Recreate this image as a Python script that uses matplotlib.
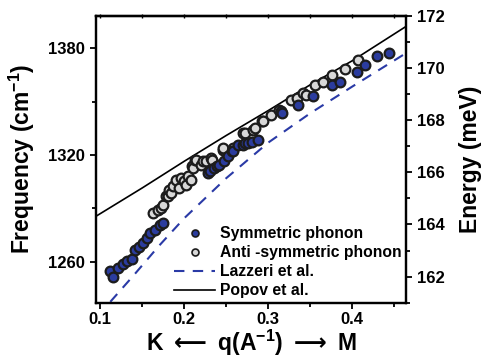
import matplotlib
matplotlib.use("Agg")
import matplotlib.pyplot as plt
from matplotlib.lines import Line2D
from matplotlib.ticker import MultipleLocator

plt.rcParams['font.family'] = ['Liberation Sans', 'DejaVu Sans']
plt.rcParams['font.weight'] = 'bold'
plt.rcParams['mathtext.fontset'] = 'dejavusans'

# Symmetric phonon (blue)
sym_q = [0.1116, 0.1155, 0.1215, 0.1266, 0.1314, 0.1373, 0.1413, 0.1465, 0.1512, 0.1552,
         0.1592, 0.1651, 0.1711, 0.1750, 0.2286, 0.2306, 0.2358, 0.2385, 0.2417, 0.2477,
         0.2516, 0.2564, 0.2576, 0.2643, 0.2695, 0.2723, 0.2754, 0.2802, 0.2881, 0.3151,
         0.3159, 0.3357, 0.3536, 0.3754, 0.3853, 0.4052, 0.4151, 0.4290, 0.4437]
sym_f = [1254.8, 1251.6, 1256.6, 1258.5, 1260.4, 1261.3, 1266.9, 1268.4, 1270.6, 1273.5,
         1276.2, 1278.1, 1280.9, 1281.9, 1309.9, 1310.8, 1312.7, 1313.6, 1314.6, 1316.4,
         1319.2, 1322.0, 1322.0, 1325.8, 1325.8, 1326.7, 1326.7, 1327.6, 1328.6, 1344.5,
         1343.9, 1348.2, 1352.9, 1359.4, 1361.3, 1366.9, 1370.6, 1375.7, 1377.5]

# Anti-symmetric phonon (gray)
anti_q = [0.1623, 0.1683, 0.1723, 0.1743, 0.1782, 0.1802, 0.1822, 0.1842, 0.1862, 0.1901,
          0.1941, 0.1961, 0.2001, 0.2020, 0.2040, 0.2080, 0.2088, 0.2100, 0.2128, 0.2139,
          0.2199, 0.2227, 0.2258, 0.2318, 0.2326, 0.2457, 0.2465, 0.2576, 0.2695, 0.2723,
          0.2814, 0.2842, 0.2921, 0.2933, 0.3032, 0.3131, 0.3268, 0.3337, 0.3417, 0.3449,
          0.3556, 0.3655, 0.3754, 0.3913, 0.4070]
anti_f = [1287.5, 1289.0, 1290.3, 1292.1, 1296.8, 1296.8, 1300.5, 1298.7, 1302.4, 1306.2,
          1301.5, 1307.1, 1305.2, 1303.3, 1308.0, 1306.2, 1313.6, 1312.7, 1317.4, 1317.4,
          1314.6, 1316.4, 1316.4, 1318.3, 1317.4, 1323.0, 1323.9, 1323.9, 1332.3, 1332.3,
          1334.2, 1335.1, 1338.9, 1338.9, 1342.6, 1345.4, 1351.0, 1351.9, 1354.7, 1353.8,
          1359.4, 1361.3, 1365.0, 1368.2, 1373.4]

# Lazzeri et al. (dashed)
laz_q = [0.112, 0.14, 0.17, 0.2, 0.25, 0.3, 0.35, 0.4, 0.463]
laz_f = [1237.5, 1252.5, 1269.0, 1284.5, 1307.0, 1327.0, 1343.5, 1358.5, 1377.0]

# Popov et al. (solid)
pop_q = [0.095, 0.15, 0.2, 0.25, 0.3, 0.35, 0.4, 0.463]
pop_f = [1285.6, 1301.5, 1316.5, 1331.0, 1345.0, 1359.5, 1373.0, 1392.0]

labels = ['Symmetric phonon', 'Anti -symmetric phonon', 'Lazzeri et al.', 'Popov et al.']

blue = '#2b3c9e'
gray = '#d8d8d8'
edge = '#1c1c1c'

fig = plt.figure(figsize=(4.83, 3.62), dpi=100)
ax = fig.add_axes([0.1988, 0.1638, 0.642, 0.7928])

ax.plot(laz_q, laz_f, color='#2a3aa6', lw=1.5, dashes=(5, 4), zorder=2)
ax.plot(pop_q, pop_f, color='black', lw=1.2, zorder=2)
ax.plot(anti_q, anti_f, 'o', ms=7, mfc=gray, mec=edge, mew=1.6, ls='none', zorder=3)
ax.plot(sym_q, sym_f, 'o', ms=7, mfc=blue, mec=edge, mew=1.6, ls='none', zorder=4)

ax.set_xlim(0.095, 0.464)
ax.set_ylim(1237, 1398.3)
ax.xaxis.set_major_locator(MultipleLocator(0.1))
ax.xaxis.set_minor_locator(MultipleLocator(0.05))
ax.yaxis.set_major_locator(MultipleLocator(60))
ax.yaxis.set_minor_locator(MultipleLocator(30))
ax.tick_params(axis='both', which='both', direction='out', width=1.3, labelsize=12)
ax.tick_params(which='major', length=4.5)
ax.tick_params(which='minor', length=3)
ax.tick_params(axis='x', which='both', pad=2)
for lab in ax.get_xticklabels() + ax.get_yticklabels():
    lab.set_fontweight('bold')
for s in ax.spines.values():
    s.set_linewidth(1.6)

top = ax.secondary_xaxis('top')
top.xaxis.set_major_locator(MultipleLocator(0.05))
top.tick_params(axis='x', which='both', direction='inout', length=2.5, width=1.0,
                labeltop=False)
top.spines['top'].set_linewidth(1.6)

ax.set_ylabel('Frequency (cm$^{\\mathregular{-1}}$)', fontsize=16.5, fontweight='bold',
              labelpad=8)
ax.set_xlabel('K $\\longleftarrow$ q(A$^{\\mathregular{-1}}$) $\\longrightarrow$ M',
              fontsize=16.5, fontweight='bold', labelpad=1)

ax2 = ax.twinx()
ax2.set_ylim(161, 172)
ax2.yaxis.set_major_locator(MultipleLocator(2))
ax2.yaxis.set_minor_locator(MultipleLocator(1))
ax2.tick_params(axis='y', which='both', direction='out', width=1.3, labelsize=12)
ax2.tick_params(which='major', length=4.5)
ax2.tick_params(which='minor', length=3)
for lab in ax2.get_yticklabels():
    lab.set_fontweight('bold')
ax2.set_ylabel('Energy (meV)', fontsize=16.5, fontweight='bold', labelpad=10)
for s in ax2.spines.values():
    s.set_linewidth(1.6)

handles = [
    Line2D([], [], marker='o', ls='none', ms=5, mfc=blue, mec=edge, mew=1.2),
    Line2D([], [], marker='o', ls='none', ms=5, mfc=gray, mec=edge, mew=1.2),
    Line2D([], [], color='#2a3aa6', lw=1.5, dashes=(5, 4)),
    Line2D([], [], color='black', lw=1.2),
]
leg = ax.legend(handles, labels, loc='lower right', bbox_to_anchor=(1.0, 0.0),
                frameon=False, fontsize=11.3, handlelength=2.6, handletextpad=0.3,
                labelspacing=0.25, borderaxespad=0.1, borderpad=0.2)
for t in leg.get_texts():
    t.set_fontweight('bold')

fig.savefig('out.png', dpi=100)
